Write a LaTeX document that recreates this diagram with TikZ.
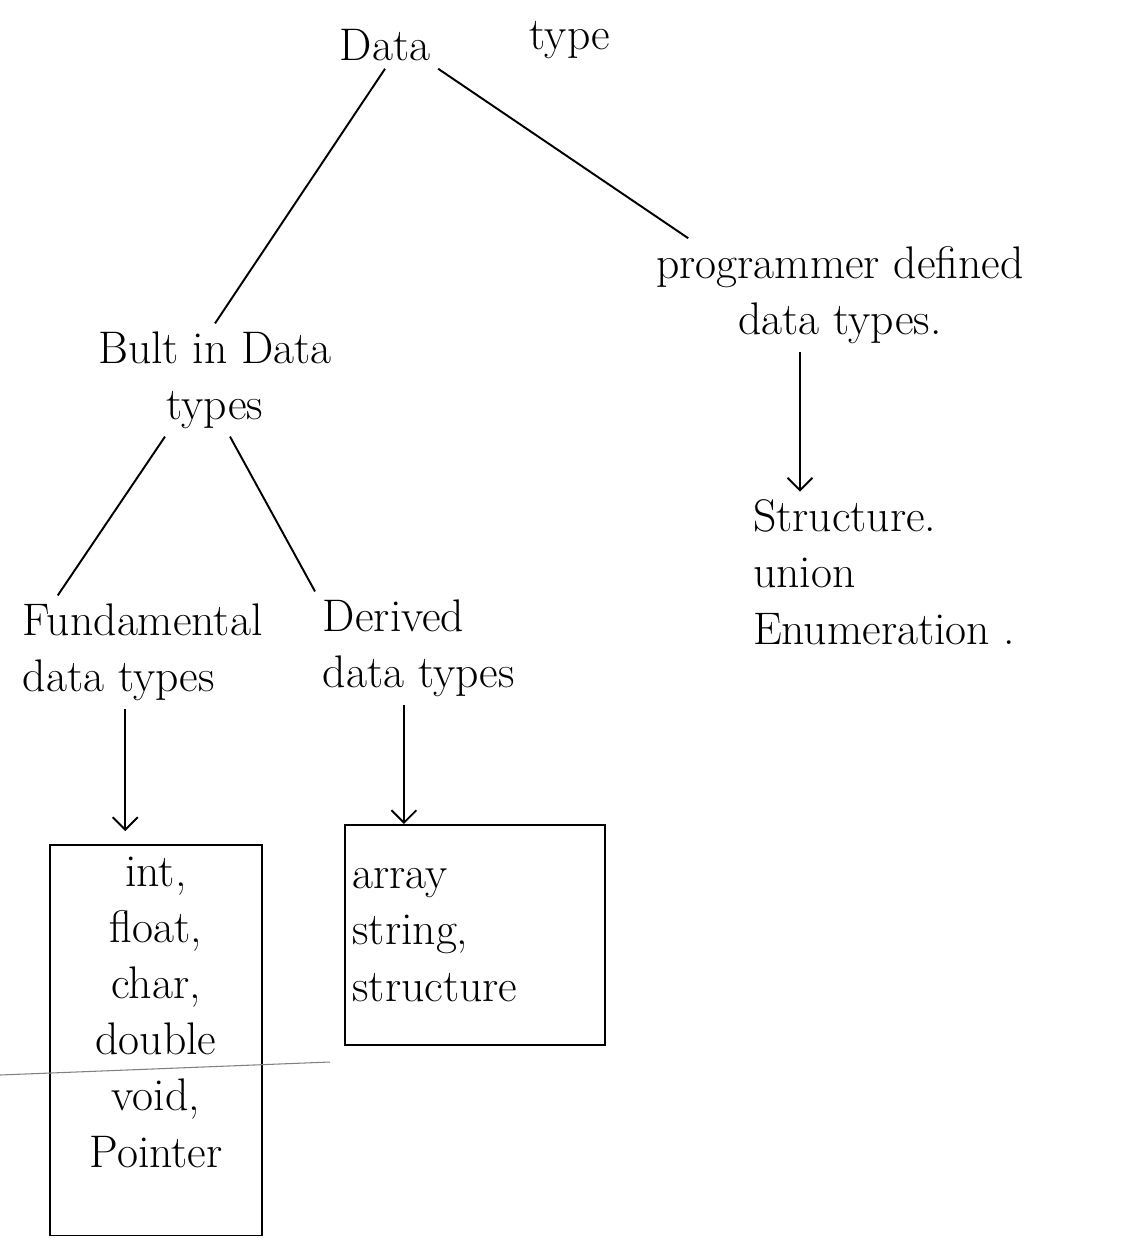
\documentclass[tikz,border=0pt]{standalone}
\usetikzlibrary{arrows.meta}
\begin{document}
\begin{tikzpicture}[x=0.02cm, y=-0.02cm, line width=1.1pt, line join=miter,
        every node/.style={font=\fontsize{26}{32}\selectfont, inner sep=4pt},
        arrow/.style={-{Straight Barb[length=2.5mm, width=5mm]}},
        listbox/.style={draw, align=center}]
    \useasboundingbox (0,0) rectangle (1134,1238);
        \node (data) at (385,45) {Data};
        \node (type) at (570,40) {type};
        \node[align=center] (builtin) at (215,380) {Bult in Data\\types};
        \node[align=center] (programmer) at (840,295) {programmer defined\\data types.};
        \node[align=left, anchor=west] (usertypes) at (745,572) {Structure.\\union\\Enumeration .};
        \node[align=left, anchor=west] (fundtypes) at (15,652) {Fundamental\\data types};
        \node[align=left, anchor=west] (derived) at (315,648) {Derived\\data types};
        \node[listbox, minimum width=4.24cm, minimum height=7.82cm] (basicbox) at (156,1040) {int,\\float,\\char,\\double\\void,\\Pointer\\ \mbox{}};
        \node[listbox, minimum width=5.2cm, minimum height=4.4cm, text width=4.9cm, align=left] (derivedbox) at (475,935) {array\\string,\\structure};
        % tree lines
        \draw (data.south) -- (builtin.north);
        \draw (data.south east) -- ([xshift=0.8cm]programmer.north west);
        \draw ([xshift=-1cm]builtin.south) -- ([xshift=-1.7cm]fundtypes.north);
        \draw ([xshift=0.3cm]builtin.south) -- (derived.north west);
        % arrows down
        \draw[arrow] ([xshift=-0.8cm]programmer.south) -- ([xshift=-0.8cm]programmer.south |- usertypes.north);
        \draw[arrow, shorten >=0.25cm] ([xshift=-0.35cm]fundtypes.south) -- ([xshift=-0.35cm]fundtypes.south |- basicbox.north);
        \draw[arrow] ([xshift=-0.3cm]derived.south) -- ([xshift=-0.3cm]derived.south |- derivedbox.north);
        % stray pen line
        \draw[gray, line width=0.6pt] (0,1075) -- (330,1062);
\end{tikzpicture}
\end{document}
